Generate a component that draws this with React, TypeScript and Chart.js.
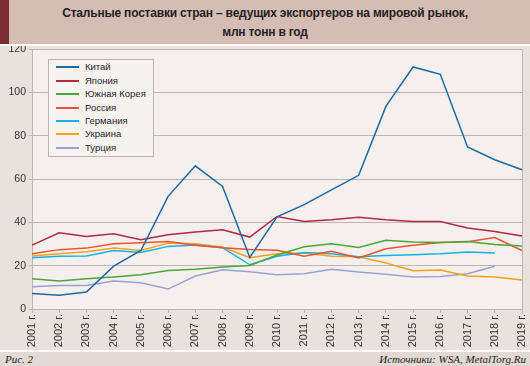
import React, { useEffect, useRef } from "react";
import { Chart, registerables } from "chart.js";

Chart.register(...registerables);

const titleLines = [
  "Стальные поставки стран – ведущих экспортеров на мировой рынок,",
  "млн тонн в год",
];
const figureLabel = "Рис. 2";
const sourceLabel = "Источники: WSA, MetalTorg.Ru";

const years = [
  "2001 г.", "2002 г.", "2003 г.", "2004 г.", "2005 г.", "2006 г.", "2007 г.",
  "2008 г.", "2009 г.", "2010 г.", "2011 г.", "2012 г.", "2013 г.", "2014 г.",
  "2015 г.", "2016 г.", "2017 г.", "2018 г.", "2019 г.",
];

const yMin = 0;
const yMax = 120;
const yStep = 20;

const china = [7.1, 6.3, 7.8, 19.8, 27.0, 52.0, 66.1, 56.6, 23.8, 42.5, 48.2, 55.0, 61.7, 93.5, 111.7, 108.3, 74.8, 68.9, 64.3];
const japan = [29.5, 35.2, 33.5, 34.7, 32.0, 34.3, 35.5, 36.6, 33.2, 42.7, 40.4, 41.2, 42.3, 41.2, 40.4, 40.4, 37.4, 35.8, 33.7];
const korea = [14.0, 12.9, 14.0, 14.8, 15.8, 17.8, 18.3, 19.4, 20.1, 24.9, 28.7, 30.1, 28.4, 31.7, 30.9, 30.7, 31.2, 29.8, 29.1];
const russia = [25.5, 27.4, 28.1, 30.1, 30.6, 31.2, 29.4, 28.3, 27.5, 27.1, 24.3, 26.6, 23.5, 27.8, 29.4, 30.7, 31.0, 33.0, 27.0];
const germany = [23.7, 24.3, 24.5, 27.0, 26.1, 28.9, 29.5, 28.3, 20.4, 24.3, 26.1, 25.5, 24.1, 24.7, 25.0, 25.5, 26.3, 25.8, null];
const ukraine = [24.5, 25.5, 26.4, 28.1, 27.0, 30.4, 30.1, 28.6, 23.7, 25.5, 25.8, 24.3, 24.1, 21.2, 17.7, 18.0, 15.2, 14.8, 13.4];
const turkey = [10.3, 10.9, 10.9, 12.9, 12.1, 9.2, 15.2, 18.1, 17.2, 15.8, 16.3, 18.3, 17.1, 16.0, 14.8, 15.0, 16.3, 19.7, null];

const seriesNames = ["Китай", "Япония", "Южная Корея", "Россия", "Германия", "Украина", "Турция"];
const seriesData = [china, japan, korea, russia, germany, ukraine, turkey];
const seriesColors = ["#1d69a3", "#b02a40", "#4ca53b", "#f0532e", "#17b1ea", "#f8a11e", "#9da0d5"];

const W = 530;
const H = 366;
const GRID = "#bdb5b1";
const FONT = "'Liberation Sans', Arial, Helvetica, sans-serif";

export default function App() {
  const ref = useRef<HTMLCanvasElement | null>(null);

  useEffect(() => {
    const canvas = ref.current;
    if (!canvas) return;

    const framePlugin = {
      id: "frame",
      beforeDraw(chart: any) {
        const { ctx, chartArea: a } = chart;
        ctx.save();
        ctx.fillStyle = "#f5f0ed";
        ctx.fillRect(a.left, a.top, a.right - a.left, a.bottom - a.top);
        ctx.restore();
      },
      beforeDatasetsDraw(chart: any) {
        const { ctx, chartArea: a } = chart;
        ctx.save();
        ctx.strokeStyle = GRID;
        ctx.lineWidth = 1;
        ctx.beginPath();
        const t = Math.floor(a.top) + 0.5;
        const r = Math.floor(a.right) + 0.5;
        ctx.moveTo(a.left, t);
        ctx.lineTo(r, t);
        ctx.lineTo(r, a.bottom);
        ctx.stroke();
        ctx.restore();
      },
    };

    const chart = new Chart(canvas, {
      type: "line",
      data: {
        labels: years,
        datasets: seriesNames.map((name, i) => ({
          label: name,
          data: seriesData[i],
          borderColor: seriesColors[i],
          backgroundColor: seriesColors[i],
          borderWidth: 1.5,
          pointRadius: 0,
          tension: 0,
          fill: false,
          spanGaps: false,
        })),
      },
      options: {
        responsive: false,
        animation: false,
        devicePixelRatio: 1,
        layout: { padding: { top: 49, right: 8, bottom: 15, left: 0 } },
        plugins: {
          legend: { display: false },
          title: { display: false },
          tooltip: { enabled: false },
        },
        scales: {
          x: {
            type: "category",
            offset: false,
            grid: {
              display: true,
              drawOnChartArea: false,
              drawTicks: true,
              tickLength: 4,
              color: GRID,
            },
            border: { display: true, color: GRID, width: 1 },
            ticks: {
              autoSkip: false,
              minRotation: 90,
              maxRotation: 90,
              padding: 1,
              color: "#333333",
              font: { family: FONT, size: 11 },
            },
            afterFit(scale: any) {
              scale.height = 42;
              scale.paddingLeft = 0;
              scale.paddingRight = 0;
            },
          },
          y: {
            min: yMin,
            max: yMax,
            ticks: {
              stepSize: yStep,
              padding: 3,
              color: "#333333",
              font: { family: FONT, size: 10.5 },
            },
            grid: { color: GRID, tickLength: 3, lineWidth: 1 },
            border: { display: true, color: GRID, width: 1 },
            afterFit(scale: any) {
              scale.width = 32;
              scale.paddingTop = 0;
              scale.paddingBottom = 0;
            },
          },
        },
      },
      plugins: [framePlugin],
    } as any);

    return () => chart.destroy();
  }, []);

  const legendTop = 59;
  const rowStep = 13.4;

  return (
    <div
      style={{
        position: "fixed",
        left: 0,
        top: 0,
        width: W,
        height: H,
        background: "#e9e1dd",
        overflow: "hidden",
        fontFamily: FONT,
      }}
    >
      <canvas
        ref={ref}
        width={W}
        height={H}
        style={{ position: "absolute", left: 0, top: 0, width: W, height: H, display: "block" }}
      />
      {/* title band */}
      <div
        style={{
          position: "absolute",
          left: 0,
          top: 0,
          width: W,
          height: 44,
          background: "#d5bcb5",
          borderBottom: "2px solid #ffffff",
        }}
      >
        <div style={{ position: "absolute", left: 0, top: 0, width: 9, height: 44, background: "#7b2d34" }} />
        <div
          style={{
            position: "absolute",
            left: 0,
            top: 4,
            width: W,
            textAlign: "center",
            fontWeight: "bold",
            fontSize: 12,
            letterSpacing: "-0.2px",
            lineHeight: "19px",
            color: "#231f20",
          }}
        >
          {titleLines.map((t) => (
            <div key={t}>{t}</div>
          ))}
        </div>
      </div>
      {/* legend */}
      <div
        style={{
          position: "absolute",
          left: 48,
          top: legendTop,
          width: 104,
          height: 96,
          background: "#f6f2f0",
          border: "1px solid #bdb5b1",
        }}
      />
      {seriesNames.map((name, i) => {
        const cy = legendTop + 8.3 + i * rowStep;
        return (
          <React.Fragment key={name}>
            <div
              style={{
                position: "absolute",
                left: 56,
                top: cy - 1,
                width: 23,
                height: 2,
                background: seriesColors[i],
              }}
            />
            <div
              style={{
                position: "absolute",
                left: 85,
                top: cy - 7,
                height: 14,
                lineHeight: "14px",
                fontSize: 9.5,
                color: "#2a2627",
                whiteSpace: "nowrap",
              }}
            >
              {name}
            </div>
          </React.Fragment>
        );
      })}
      {/* footer band */}
      <div
        style={{
          position: "absolute",
          left: 0,
          top: 350,
          width: W,
          height: 16,
          background: "#e2d8d4",
          borderTop: "2px solid #ffffff",
          boxSizing: "border-box",
        }}
      >
        <div
          style={{
            position: "absolute",
            left: 5,
            top: 0,
            lineHeight: "14px",
            fontSize: 11,
            fontStyle: "italic",
            fontFamily: "'Liberation Serif', 'Times New Roman', serif",
            color: "#231f20",
          }}
        >
          {figureLabel}
        </div>
        <div
          style={{
            position: "absolute",
            right: 4,
            top: 0,
            lineHeight: "14px",
            fontSize: 11,
            fontStyle: "italic",
            fontFamily: "'Liberation Serif', 'Times New Roman', serif",
            color: "#231f20",
            whiteSpace: "nowrap",
          }}
        >
          {sourceLabel}
        </div>
      </div>
    </div>
  );
}
